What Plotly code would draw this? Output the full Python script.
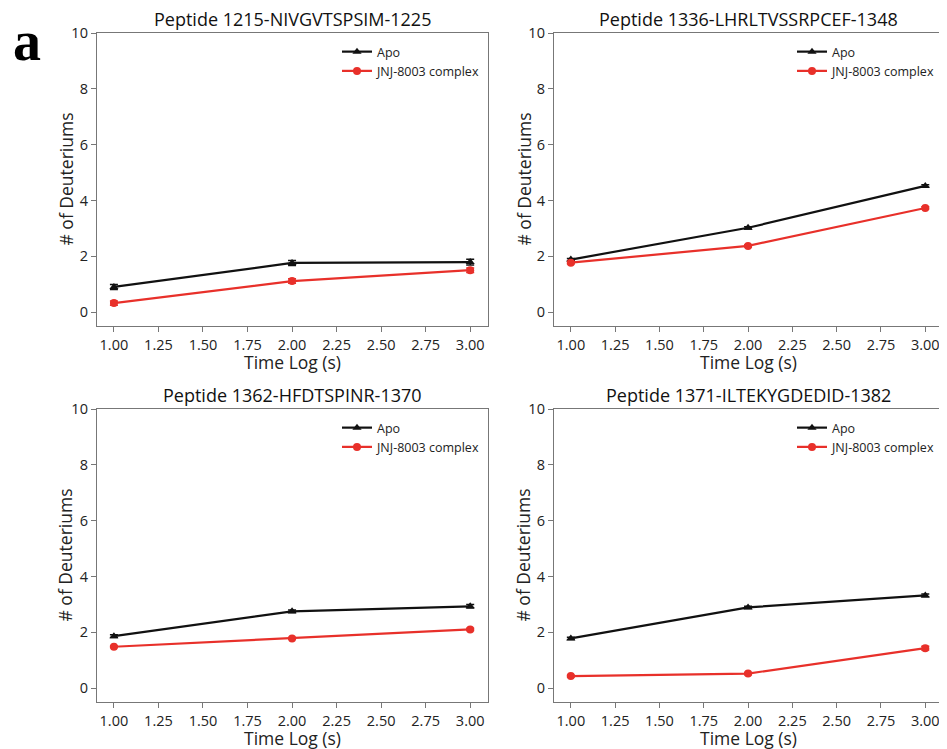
import plotly.graph_objects as go

time_log = [1.0, 2.0, 3.0]

titles = [
    "Peptide 1215-NIVGVTSPSIM-1225",
    "Peptide 1336-LHRLTVSSRPCEF-1348",
    "Peptide 1362-HFDTSPINR-1370",
    "Peptide 1371-ILTEKYGDEDID-1382",
]

apo_vals = [
    [0.90, 1.76, 1.79],
    [1.88, 3.02, 4.52],
    [1.86, 2.75, 2.93],
    [1.78, 2.89, 3.32],
]
apo_err = [
    [0.09, 0.09, 0.10],
    [0.04, 0.04, 0.04],
    [0.05, 0.05, 0.06],
    [0.04, 0.04, 0.05],
]
jnj_vals = [
    [0.32, 1.11, 1.50],
    [1.77, 2.37, 3.73],
    [1.48, 1.78, 2.10],
    [0.43, 0.52, 1.43],
]
jnj_err = [
    [0.08, 0.08, 0.08],
    [0.04, 0.04, 0.04],
    [0.03, 0.03, 0.04],
    [0.03, 0.04, 0.07],
]

series_names = ["Apo", "JNJ-8003 complex"]
x_ticks = [1.0, 1.25, 1.5, 1.75, 2.0, 2.25, 2.5, 2.75, 3.0]
y_ticks = [0, 2, 4, 6, 8, 10]
x_title = "Time Log (s)"
y_title = "# of Deuteriums"

# page body has an 8px margin, so the figure starts at (8, 8) in the window
W, H = 939, 741
OFF = 8
def px_x(p):
    return (p - OFF) / W
def px_y(p):
    return 1 - (p - OFF) / H

xdoms = [[px_x(97), px_x(488)], [px_x(554), px_x(943)]]
ydoms = [[px_y(326), px_y(33)], [px_y(702), px_y(409)]]
title_y = [px_y(19), px_y(395)]
xtitle_y = [px_y(362), px_y(738)]
ytitle_x = [px_x(65), px_x(523)]

FONT = "Open Sans"
TXT = "#222222"
fig = go.Figure()

for i in range(4):
    r, c = divmod(i, 2)
    ax = "" if i == 0 else str(i + 1)
    leg = "legend" if i == 0 else f"legend{i + 1}"
    fig.add_trace(go.Scatter(
        x=time_log, y=apo_vals[i], name=series_names[0], mode="lines+markers",
        line=dict(color="#111111", width=2.2),
        marker=dict(symbol="triangle-up", size=8, color="#111111"),
        error_y=dict(type="data", array=apo_err[i], color="#111111", thickness=1.5, width=4),
        xaxis="x" + ax, yaxis="y" + ax, legend=leg,
    ))
    fig.add_trace(go.Scatter(
        x=time_log, y=jnj_vals[i], name=series_names[1], mode="lines+markers",
        line=dict(color="#e8302a", width=2.2),
        marker=dict(symbol="circle", size=8, color="#e8302a"),
        error_y=dict(type="data", array=jnj_err[i], color="#e8302a", thickness=1.5, width=4),
        xaxis="x" + ax, yaxis="y" + ax, legend=leg,
    ))
    axis_common = dict(
        showline=True, linecolor="#777777", linewidth=1.3, mirror=True,
        ticks="outside", ticklen=5, tickcolor="#777777", tickwidth=1.2,
        showgrid=False, zeroline=False, automargin=False,
        tickfont=dict(family=FONT, size=14.5, color=TXT),
    )
    fig.layout["xaxis" + ax] = dict(
        axis_common, domain=xdoms[c], range=[0.905, 3.10],
        tickvals=x_ticks, tickformat=".2f", anchor="y" + ax,
    )
    fig.layout["yaxis" + ax] = dict(
        axis_common, domain=ydoms[r], range=[-0.5, 10],
        tickvals=y_ticks, anchor="x" + ax,
    )
    fig.layout[leg] = dict(
        x=xdoms[c][1] - 3 / W, y=ydoms[r][1] - 4 / H, xanchor="right", yanchor="top",
        bgcolor="rgba(0,0,0,0)", font=dict(family=FONT, size=12.5, color=TXT),
        itemwidth=30, tracegroupgap=0, traceorder="normal",
    )
    fig.add_annotation(
        text=titles[i], xref="paper", yref="paper",
        x=(xdoms[c][0] + xdoms[c][1]) / 2, y=title_y[r],
        xanchor="center", yanchor="middle", showarrow=False,
        font=dict(family=FONT, size=18, color="#111111"),
    )
    fig.add_annotation(
        text=x_title, xref="paper", yref="paper",
        x=(xdoms[c][0] + xdoms[c][1]) / 2, y=xtitle_y[r],
        xanchor="center", yanchor="middle", showarrow=False,
        font=dict(family=FONT, size=17.5, color=TXT),
    )
    fig.add_annotation(
        text=y_title, xref="paper", yref="paper", textangle=-90,
        x=ytitle_x[c], y=(ydoms[r][0] + ydoms[r][1]) / 2,
        xanchor="center", yanchor="middle", showarrow=False,
        font=dict(family=FONT, size=17.5, color=TXT),
    )

fig.add_annotation(
    text="<b>a</b>", xref="paper", yref="paper", x=px_x(27), y=px_y(41),
    xanchor="center", yanchor="middle", showarrow=False,
    font=dict(family="Liberation Serif", size=56, color="#000000"),
)

fig.update_layout(
    width=W, height=H, margin=dict(l=0, r=0, t=0, b=0, autoexpand=False),
    paper_bgcolor="white", plot_bgcolor="white", showlegend=True,
)

fig.write_html("out.html")
